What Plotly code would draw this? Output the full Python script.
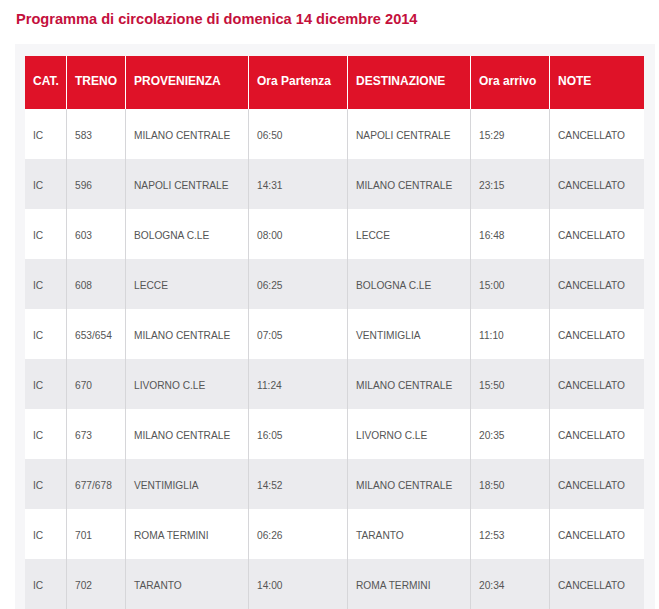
import plotly.graph_objects as go

# table data
headers = ["CAT.", "TRENO", "PROVENIENZA", "Ora Partenza", "DESTINAZIONE", "Ora arrivo", "NOTE"]
cat = ["IC"] * 10
treno = ["583", "596", "603", "608", "653/654", "670", "673", "677/678", "701", "702"]
provenienza = ["MILANO CENTRALE", "NAPOLI CENTRALE", "BOLOGNA C.LE", "LECCE", "MILANO CENTRALE",
               "LIVORNO C.LE", "MILANO CENTRALE", "VENTIMIGLIA", "ROMA TERMINI", "TARANTO"]
ora_partenza = ["06:50", "14:31", "08:00", "06:25", "07:05", "11:24", "16:05", "14:52", "06:26", "14:00"]
destinazione = ["NAPOLI CENTRALE", "MILANO CENTRALE", "LECCE", "BOLOGNA C.LE", "VENTIMIGLIA",
                "MILANO CENTRALE", "LIVORNO C.LE", "MILANO CENTRALE", "TARANTO", "ROMA TERMINI"]
ora_arrivo = ["15:29", "23:15", "16:48", "15:00", "11:10", "15:50", "20:35", "18:50", "12:53", "20:34"]
note = ["CANCELLATO"] * 10

W, H = 659, 609
col_widths = [42, 59, 123, 99, 123, 79, 94]
tbl_x0, tbl_x1 = 25, 644

columns = [cat, treno, provenienza, ora_partenza, destinazione, ora_arrivo, note]
n_rows = len(treno)
row_fill = ["#ffffff" if i % 2 == 0 else "#ebebee" for i in range(n_rows)]
sep_color = "#d6d6d9"

# plotly puts cell text near the top; a blank first line pushes it to the middle
pad = "\u00a0<br>"

# build the table with 1px spacer columns acting as the vertical rules
widths, head_vals, head_fill, cell_vals, cell_fill = [], [], [], [], []
for i, (h, col, w) in enumerate(zip(headers, columns, col_widths)):
    if i > 0:
        widths.append(1)
        head_vals.append("")
        head_fill.append("#ffffff")
        cell_vals.append([""] * n_rows)
        cell_fill.append([sep_color] * n_rows)
    widths.append(w - 1 if i < len(headers) - 1 else w)
    # smaller base font keeps the header's blank line shorter
    head_vals.append(pad + "<span style='font-size:12px'><b>%s</b></span>" % h)
    head_fill.append("#df1228")
    cell_vals.append([pad + v for v in col])
    cell_fill.append(row_fill)

fig = go.Figure(go.Table(
    columnwidth=widths,
    domain=dict(x=[tbl_x0 / W, tbl_x1 / W], y=[0, 1 - 56 / H]),
    header=dict(
        values=head_vals,
        fill_color=head_fill,
        line=dict(width=0),
        font=dict(family="Arial, Liberation Sans", size=9.5, color="#ffffff"),
        align="left",
        height=53,
    ),
    cells=dict(
        values=cell_vals,
        fill_color=cell_fill,
        line=dict(width=0),
        font=dict(family="Arial, Liberation Sans", size=10.2, color="#555555"),
        align="left",
        height=50,
    ),
))

# light grey panel behind the table
fig.add_shape(type="rect", xref="paper", yref="paper",
              x0=15 / W, x1=655 / W, y0=0, y1=1 - 44 / H,
              fillcolor="#f6f6f8", line=dict(width=0), layer="below")

fig.add_annotation(text="<b>Programma di circolazione di domenica 14 dicembre 2014</b>",
                   xref="paper", yref="paper", x=14 / W, y=1 - 19 / H,
                   xanchor="left", yanchor="middle", showarrow=False,
                   font=dict(family="Arial, Liberation Sans", size=14.6, color="#c4103c"))

fig.update_layout(width=W, height=H, margin=dict(l=0, r=0, t=0, b=0),
                  paper_bgcolor="#ffffff")

fig.write_html("out.html", config={"displayModeBar": False},
               post_script="document.body.style.margin='0';")
